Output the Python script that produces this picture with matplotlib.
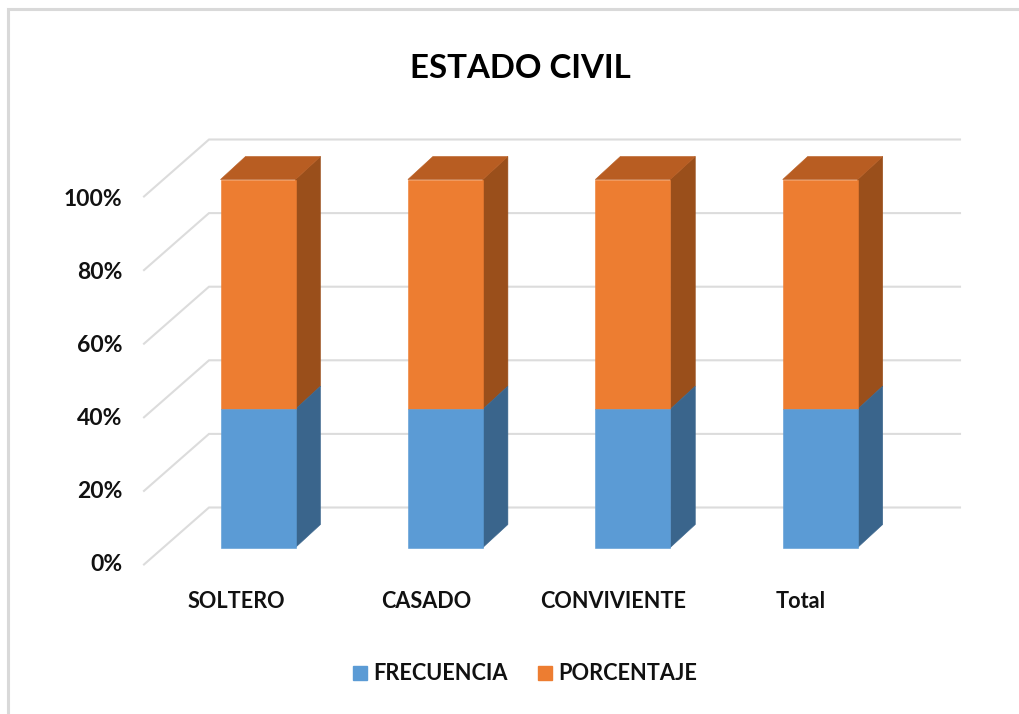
import matplotlib
matplotlib.use("Agg")
from matplotlib import pyplot as plt
from matplotlib.patches import Patch, Polygon

plt.rcParams['font.family'] = ['Lato', 'DejaVu Sans']

categories = ["SOLTERO", "CASADO", "CONVIVIENTE", "Total"]
frecuencia = [37.6, 37.6, 37.6, 37.6]
porcentaje = [62.4, 62.4, 62.4, 62.4]
y_ticks = [0, 20, 40, 60, 80, 100]

# pixel layout of the reference
W, H = 1019, 714
x0_px, x_step = 258.0, 187.4
y0_px, y_step = 547.5, 3.68

fig = plt.figure(figsize=(W / 100, H / 100), dpi=100)
ax = fig.add_axes([0, 0, 1, 1])
ax.set_xlim(-x0_px / x_step, (W - x0_px) / x_step)
ax.set_ylim((y0_px - H) / y_step, y0_px / y_step)
ax.axis("off")


def px_x(p):
    return (p - x0_px) / x_step


def px_y(p):
    return (y0_px - p) / y_step


# frame, only top and left are visible
ax.plot([px_x(8), px_x(8), px_x(1019)], [px_y(714), px_y(9), px_y(9)],
        color="#d9d9d9", lw=2.2, zorder=1, solid_joinstyle="miter")

# back wall lines and the diagonal floor/side lines
wall_dy = 40 / y_step
front_dy = -17 / y_step
for v in y_ticks:
    ax.plot([px_x(144), px_x(209), px_x(960)],
            [v + front_dy, v + wall_dy, v + wall_dy],
            color="#dcdcdc", lw=1.5, zorder=1, solid_joinstyle="miter")
    ax.text(px_x(122), v * 0.99 - 4.5, f"{v}%", ha="right", va="center",
            fontsize=16.5, fontweight="bold", color="#111111")

# 3D bars
bar_w = 75 / x_step
dx = 25 / x_step
dy = 23 / y_step


def draw_box(xc, bottom, top, front, side, cap=None):
    left = xc - bar_w / 2
    right = xc + bar_w / 2
    ax.add_patch(Polygon([(right, bottom), (right + dx, bottom + dy),
                          (right + dx, top + dy), (right, top)],
                         facecolor=side, edgecolor=side, lw=0.4, zorder=3))
    ax.add_patch(Polygon([(left, bottom), (right, bottom), (right, top), (left, top)],
                         facecolor=front, edgecolor=front, lw=0.4, zorder=4))
    if cap:
        ax.add_patch(Polygon([(left, top), (right, top), (right + dx, top + dy),
                              (left + dx, top + dy)],
                             facecolor=cap, edgecolor=cap, lw=0.4, zorder=3))


for i, cat in enumerate(categories):
    f = frecuencia[i]
    p = porcentaje[i]
    draw_box(i, f, f + p, "#ed7d31", "#9a4f1b", "#b85d22")
    draw_box(i, 0, f, "#5b9bd5", "#3a658c")

label_px = [236, 426.5, 613.5, 800.5]
for cat, lx in zip(categories, label_px):
    ax.text(px_x(lx), px_y(602), cat, ha="center", va="center",
            fontsize=15.6, fontweight="bold", color="#111111")

ax.text(px_x(520), px_y(68), "ESTADO CIVIL", ha="center", va="center",
        fontsize=23.8, fontweight="bold", color="#000000")

handles = [Patch(color="#5b9bd5", label="FRECUENCIA"),
           Patch(color="#ed7d31", label="PORCENTAJE")]
leg = ax.legend(handles=handles, ncol=2, loc="center", frameon=False,
                bbox_to_anchor=(525 / W, 1 - 674 / H), bbox_transform=fig.transFigure,
                prop={"size": 15.7, "weight": "bold"}, handlelength=0.64, handleheight=0.64,
                handletextpad=0.28, columnspacing=1.38)
for t in leg.get_texts():
    t.set_color("#111111")

fig.savefig("out.png", dpi=100)
